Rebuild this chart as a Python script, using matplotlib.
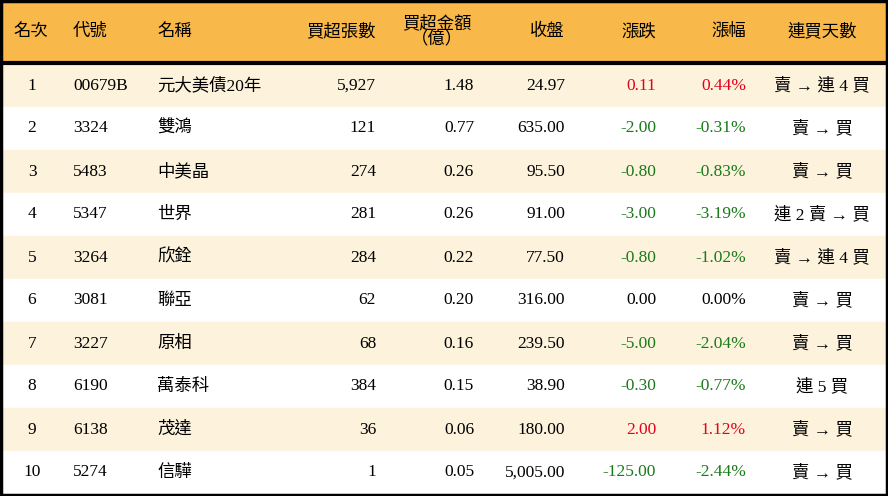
import matplotlib
matplotlib.use("Agg")
import matplotlib.pyplot as plt
from matplotlib.patches import Rectangle

headers = ["名次", "代號", "名稱", "買超張數", "買超金額\n（億）", "收盤", "漲跌", "漲幅", "連買天數"]
ranks = ["1", "2", "3", "4", "5", "6", "7", "8", "9", "10"]
codes = ["00679B", "3324", "5483", "5347", "3264", "3081", "3227", "6190", "6138", "5274"]
names = ["元大美債20年", "雙鴻", "中美晶", "世界", "欣銓", "聯亞", "原相", "萬泰科", "茂達", "信驊"]
shares = ["5,927", "121", "274", "281", "284", "62", "68", "384", "36", "1"]
amounts = ["1.48", "0.77", "0.26", "0.26", "0.22", "0.20", "0.16", "0.15", "0.06", "0.05"]
closes = ["24.97", "635.00", "95.50", "91.00", "77.50", "316.00", "239.50", "38.90", "180.00", "5,005.00"]
changes = [0.11, -2.00, -0.80, -3.00, -0.80, 0.00, -5.00, -0.30, 2.00, -125.00]
pcts = [0.44, -0.31, -0.83, -3.19, -1.02, 0.00, -2.04, -0.77, 1.12, -2.44]
streaks = ["賣 → 連 4 買", "賣 → 買", "賣 → 買", "連 2 賣 → 買", "賣 → 連 4 買",
           "賣 → 買", "賣 → 買", "連 5 買", "賣 → 買", "賣 → 買"]

W, H = 888, 496
fig = plt.figure(figsize=(W / 100, H / 100), dpi=100)
ax = fig.add_axes([0, 0, 1, 1])
ax.set_xlim(0, W)
ax.set_ylim(H, 0)
ax.axis("off")
font = ["Liberation Serif", "Noto Sans CJK TC"]
fs = 12.5

ax.add_patch(Rectangle((0, 0), W, 62, color="#F9B84A", zorder=0))
row_h = 43
top = 64
for i in range(10):
    c = "#FDF3DC" if i % 2 == 0 else "#FFFFFF"
    ax.add_patch(Rectangle((0, top + i * row_h), W, row_h, color=c, zorder=0))
ax.plot([0, W], [63, 63], color="black", lw=3, zorder=2)
ax.add_patch(Rectangle((1, 1), W - 2, H - 2, fill=False, ec="black", lw=2.5, zorder=3))

cols = [(32, "center"), (73, "left"), (157, "left"), (376, "right"), (474, "right"),
        (565, "right"), (656, "right"), (746, "right"), (822, "center")]
hdr_pos = [(13, "left"), (73, "left"), (157, "left"), (376, "right"), (437, "center"),
           (565, "right"), (656, "right"), (746, "right"), (822, "center")]
for (x, ha), h in zip(hdr_pos, headers):
    ax.text(x, 32, h, ha=ha, va="center", fontsize=fs, family=font, linespacing=0.95)

def col(v):
    return "#E5001C" if v > 0 else ("#1A7A1A" if v < 0 else "black")

for i in range(10):
    y = top + i * row_h + row_h / 2
    vals = [ranks[i], codes[i], names[i], shares[i], amounts[i], closes[i],
            f"{changes[i]:.2f}", f"{pcts[i]:.2f}%", streaks[i]]
    colors = ["black"] * 6 + [col(changes[i]), col(pcts[i]), "black"]
    for (x, ha), v, c in zip(cols, vals, colors):
        ax.text(x, y, v, ha=ha, va="center", fontsize=fs, family=font, color=c)

fig.savefig("out.png", dpi=100)
